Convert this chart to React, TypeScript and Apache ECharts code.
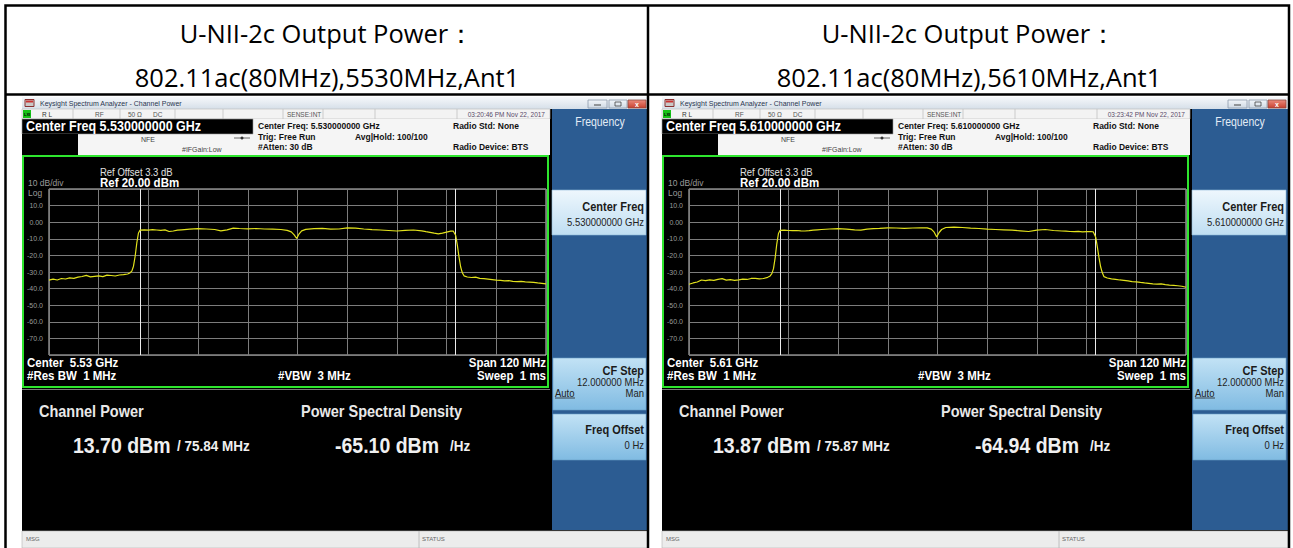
import React, { useEffect, useRef } from "react";
import * as echarts from "echarts";

// ---------------- data ----------------
const headerLine1 = "U-NII-2c Output Power：";
const headerLine2 = ["802.11ac(80MHz),5530MHz,Ant1", "802.11ac(80MHz),5610MHz,Ant1"];
const centerFreqFull = ["5.530000000", "5.610000000"];
const centerFreqShort = ["5.53", "5.61"];
const timeStamps = ["03:20:46 PM Nov 22, 2017", "03:23:42 PM Nov 22, 2017"];
const channelPowerDbm = ["13.70", "13.87"];
const channelBwMhz = ["75.84", "75.87"];
const psdDbmHz = ["-65.10", "-64.94"];
const spanMinMhz = -60;
const spanMaxMhz = 60;
const spanStepMhz = 12;
const levelMin = -80;
const levelMax = 20;
const levelStep = 10;
const channelEdgesMhz = [-38, 38];

const traceOffsetsMhz = [
  -60, -59, -58, -57, -56, -55, -54, -53, -52, -51, -50, -49, -48, -47, -46, -45, -44, -43, -42, -41,
  -40.5, -40, -39.6, -39.2, -38.8, -38.4, -38, -37, -36, -35, -34, -33, -32, -31, -30, -29, -28,
  -26, -24, -22, -20, -18.5, -17, -15.5, -14, -12, -10, -8, -6, -4, -2.5, -1.5, -0.8, -0.2, 0.4, 1,
  2, 4, 6, 8, 10, 12, 14, 16, 18, 20, 22, 24, 26, 28, 30, 31, 32, 33, 34, 35, 36, 37, 37.6, 38.2,
  38.6, 39, 39.4, 39.8, 40.2, 41, 42, 43, 44, 45, 46, 47, 48, 49, 50, 51, 52, 53, 54, 55, 56, 57,
  58, 59, 60,
];

const trace5530Dbm = [
  -34.9, -34.3, -34.8, -33.9, -34.2, -33.5, -33.8, -33.1, -32.7, -32.0, -32.9, -32.6, -32.3, -32.8, -31.9, -32.1, -32.4, -31.8, -31.6, -31.2,
  -30.6, -29.5, -26.5, -20.5, -12.5, -6.5, -4.8, -4.6, -4.8, -4.5, -4.7, -4.9, -4.6, -5.6, -5.3, -4.8, -4.6,
  -4.2, -3.9, -4.1, -4.4, -5.2, -4.6, -3.6, -3.8, -4.0, -3.8, -4.1, -4.2, -4.4, -4.9, -5.8, -7.6, -9.8, -7.0, -5.2,
  -4.3, -3.9, -3.7, -4.2, -4.1, -3.4, -3.6, -4.1, -4.5, -4.7, -5.0, -5.3, -4.9, -4.7, -5.2, -5.7, -6.1, -6.6, -7.0, -6.6, -6.0, -5.4, -5.3, -8.0,
  -14.0, -21.0, -27.0, -30.5, -32.3, -33.0, -33.3, -33.1, -33.8, -34.0, -34.3, -34.6, -34.9, -35.1, -35.3, -35.2, -35.6, -35.8, -35.7, -36.0, -36.1, -36.3,
  -36.6, -36.8, -37.2,
];

const trace5610Dbm = [
  -37.4, -36.6, -36.0, -34.8, -35.2, -34.7, -35.0, -34.4, -34.0, -34.9, -34.6, -35.0, -34.7, -34.3, -34.5, -33.9, -33.8, -34.1, -33.9, -33.2,
  -32.6, -31.0, -28.0, -21.5, -13.0, -6.8, -4.9, -4.8, -5.0, -5.1, -5.0, -5.2, -5.3, -5.1, -4.8, -4.6, -4.4,
  -4.1, -3.9, -4.2, -4.6, -4.8, -4.2, -3.9, -3.7, -3.4, -3.5, -3.7, -3.5, -3.4, -3.4, -4.2, -6.0, -8.9, -6.2, -4.4,
  -3.2, -3.0, -3.2, -3.6, -3.8, -4.2, -4.4, -4.6, -4.8, -5.2, -5.6, -4.8, -4.4, -5.0, -5.3, -5.4, -5.6, -5.7, -5.5, -5.8, -5.7, -5.6, -5.8, -9.0,
  -15.0, -21.5, -27.0, -30.5, -32.8, -33.6, -34.1, -34.4, -34.8, -35.0, -35.4, -35.8, -35.9, -36.3, -36.6, -36.8, -37.1, -37.3, -37.2, -37.6, -37.9, -38.0,
  -38.3, -38.6, -39.2,
];

const traces = [trace5530Dbm, trace5610Dbm];

// ---------------- layout helpers ----------------
const PANEL_X = [22, 662];
const FONT = '"Liberation Sans", Arial, sans-serif';
const SY = 1.15;

type TOpts = {
  bold?: boolean;
  fill?: string;
  align?: string;
  sy?: number;
  family?: string;
  z?: number;
};

function txt(x: number, y: number, text: string, size: number, o: TOpts = {}) {
  const align = o.align ?? "left";
  return {
    type: "text",
    x,
    y,
    scaleY: o.sy ?? SY,
    z: o.z ?? 10,
    silent: true,
    style: {
      text,
      fill: o.fill ?? "#ffffff",
      font: `${o.bold ? "bold " : ""}${size}px ${o.family ?? FONT}`,
      textAlign: align,
      align,
      textVerticalAlign: "middle",
      verticalAlign: "middle",
    },
  };
}

function rect(x: number, y: number, w: number, h: number, style: any, z = 1) {
  return { type: "rect", silent: true, z, shape: { x, y, width: w, height: h }, style };
}

function line(x1: number, y1: number, x2: number, y2: number, stroke: string, lw = 1, z = 2) {
  return { type: "line", silent: true, z, shape: { x1, y1, x2, y2 }, style: { stroke, lineWidth: lw } };
}

function vgrad(c1: string, c2: string) {
  return new echarts.graphic.LinearGradient(0, 0, 0, 1, [
    { offset: 0, color: c1 },
    { offset: 1, color: c2 },
  ]);
}

function panelGraphics(i: number) {
  const ox = PANEL_X[i];
  const els: any[] = [];
  // screenshot base
  els.push(rect(ox, 97, 626, 451, { fill: "#000" }, 0));
  // title bar
  els.push(rect(ox, 97, 626, 12, { fill: vgrad("#f6f8fb", "#d6dfe9") }, 1));
  els.push(rect(ox + 3, 99.5, 9, 7, { fill: "#c9c9c9", stroke: "#8a3030", lineWidth: 1 }, 2));
  els.push(rect(ox + 4, 100.5, 7, 2, { fill: "#c33" }, 3));
  els.push(txt(ox + 18, 103, "Keysight Spectrum Analyzer - Channel Power", 7, { fill: "#2a3650", sy: 1 }));
  els.push(rect(ox + 566, 100, 19, 8, { fill: vgrad("#f2f5f9", "#cfd9e4"), stroke: "#8d9aab", lineWidth: 0.8 }, 2));
  els.push(rect(ox + 587, 100, 18, 8, { fill: vgrad("#f2f5f9", "#cfd9e4"), stroke: "#8d9aab", lineWidth: 0.8 }, 2));
  els.push(rect(ox + 606, 100, 18, 8, { fill: vgrad("#ec8a7c", "#c8412f"), stroke: "#8d4a40", lineWidth: 0.8 }, 2));
  els.push(line(ox + 572, 105, ox + 579, 105, "#444", 1, 3));
  els.push(rect(ox + 593, 102, 6, 4, { fill: "none", stroke: "#444", lineWidth: 0.8 }, 3));
  els.push(txt(ox + 615, 104, "x", 7, { bold: true, fill: "#fff", align: "center", sy: 1 }));

  // status row
  els.push(rect(ox, 109, 528, 10, { fill: "#f3f3f3", stroke: "#b8b8b8", lineWidth: 0.6 }, 1));
  [51, 98, 153, 201, 261, 301, 353, 435].forEach((sx) => els.push(line(ox + sx, 109, ox + sx, 119, "#c0c0c0", 0.8, 2)));
  els.push(rect(ox + 1, 110, 8, 8, { fill: "#17c317" }, 2));
  els.push(txt(ox + 2, 114, "LXI", 4, { fill: "#000", sy: 1, bold: true }));
  els.push(txt(ox + 20, 114, "R L", 6.5, { fill: "#333", sy: 1 }));
  els.push(txt(ox + 73, 114, "RF", 6.5, { fill: "#555", sy: 1 }));
  els.push(txt(ox + 106, 114, "50 Ω", 6.5, { fill: "#555", sy: 1 }));
  els.push(txt(ox + 131, 114, "DC", 6.5, { fill: "#555", sy: 1 }));
  els.push(txt(ox + 265, 114, "SENSE:INT", 6.5, { fill: "#555", sy: 1 }));
  els.push(txt(ox + 523, 114, timeStamps[i], 6.5, { fill: "#5a4a6a", sy: 1, align: "right" }));

  // header zone
  els.push(rect(ox, 119, 528, 36, { fill: "#f5f5f5" }, 1));
  els.push(rect(ox, 119, 231, 15, { fill: "#000", stroke: "#9a9a9a", lineWidth: 0.6 }, 2));
  els.push(rect(ox, 134, 56, 21, { fill: "#000" }, 2));
  els.push(txt(ox + 4, 126.5, `Center Freq ${centerFreqFull[i]} GHz`, 12.5, { bold: true }));
  els.push(txt(ox + 126, 139, "NFE", 7, { fill: "#444", align: "center" }));
  els.push(txt(ox + 160, 149, "#IFGain:Low", 7, { fill: "#444" }));
  els.push(line(ox + 212, 138, ox + 228, 138, "#444", 0.8, 3));
  els.push({ type: "circle", silent: true, z: 3, shape: { cx: ox + 220, cy: 138, r: 1.5 }, style: { fill: "#333" } });
  els.push(txt(ox + 236, 126, `Center Freq: ${centerFreqFull[i]} GHz`, 8.5, { bold: true, fill: "#111" }));
  els.push(txt(ox + 236, 136.5, "Trig: Free Run", 8.5, { bold: true, fill: "#111" }));
  els.push(txt(ox + 236, 147, "#Atten: 30 dB", 8.5, { bold: true, fill: "#111" }));
  els.push(txt(ox + 333, 136.5, "Avg|Hold: 100/100", 8.5, { bold: true, fill: "#111" }));
  els.push(txt(ox + 431, 126, "Radio Std: None", 8.5, { bold: true, fill: "#111" }));
  els.push(txt(ox + 431, 147, "Radio Device: BTS", 8.5, { bold: true, fill: "#111" }));

  // softkey column
  els.push(rect(ox + 530, 109, 96, 421, { fill: "#2c5c92" }, 1));
  els.push(txt(ox + 578, 122, "Frequency", 10.5, { fill: "#e3ecf6", align: "center" }));
  els.push(rect(ox + 530, 190, 94, 45, { fill: vgrad("#eef7fd", "#bfdef2"), stroke: "#8fb8d8", lineWidth: 0.6 }, 2));
  els.push(txt(ox + 622, 207, "Center Freq", 11, { bold: true, fill: "#1b1b1b", align: "right" }));
  els.push(txt(ox + 622, 222, `${centerFreqFull[i]} GHz`, 9.5, { fill: "#222", align: "right" }));
  els.push(rect(ox + 531, 358, 93, 52, { fill: vgrad("#c2e2f5", "#80bbe2"), stroke: "#6aa0c8", lineWidth: 0.6 }, 2));
  els.push(txt(ox + 622, 371, "CF Step", 11, { bold: true, fill: "#1b1b1b", align: "right" }));
  els.push(txt(ox + 622, 382, "12.000000 MHz", 9.5, { fill: "#222", align: "right" }));
  els.push(txt(ox + 533, 393, "Auto", 9.5, { fill: "#222" }));
  els.push(line(ox + 533, 398, ox + 553, 398, "#222", 0.8, 3));
  els.push(txt(ox + 622, 393, "Man", 9.5, { fill: "#222", align: "right" }));
  els.push(rect(ox + 531, 414, 93, 46, { fill: vgrad("#c2e2f5", "#80bbe2"), stroke: "#6aa0c8", lineWidth: 0.6 }, 2));
  els.push(txt(ox + 622, 430, "Freq Offset", 11, { bold: true, fill: "#1b1b1b", align: "right" }));
  els.push(txt(ox + 622, 445, "0 Hz", 9.5, { fill: "#222", align: "right" }));

  // plot box
  els.push(rect(ox + 1, 156, 525, 231, { fill: "#000", stroke: "#2ee62e", lineWidth: 2 }, 1));
  els.push(txt(ox + 78, 172, "Ref Offset 3.3 dB", 9.5, { fill: "#e0e0e0" }));
  els.push(txt(ox + 6, 182.5, "10 dB/div", 8.5, { fill: "#9a9a9a" }));
  els.push(txt(ox + 78, 183, "Ref 20.00 dBm", 11.5, { bold: true }));
  els.push(txt(ox + 6, 192.5, "Log", 8.5, { fill: "#9a9a9a" }));
  els.push(txt(ox + 5, 363, `Center  ${centerFreqShort[i]} GHz`, 11.5, { bold: true }));
  els.push(txt(ox + 5, 376, "#Res BW  1 MHz", 11.5, { bold: true }));
  els.push(txt(ox + 256, 376, "#VBW  3 MHz", 11.5, { bold: true }));
  els.push(txt(ox + 524, 363, "Span 120 MHz", 11.5, { bold: true, align: "right" }));
  els.push(txt(ox + 524, 376, "Sweep  1 ms", 11.5, { bold: true, align: "right" }));
  els.push(line(ox, 389.5, ox + 528, 389.5, "#7a7a7a", 1, 2));

  // measurement results
  els.push(txt(ox + 17, 411, "Channel Power", 14.5, { bold: true, fill: "#e8e8e8" }));
  els.push(txt(ox + 279, 411, "Power Spectral Density", 14.5, { bold: true, fill: "#e8e8e8" }));
  els.push(txt(ox + 51, 445, `${channelPowerDbm[i]} dBm`, 19.5, { bold: true, fill: "#f0f0f0" }));
  els.push(txt(ox + 155, 446, `/ ${channelBwMhz[i]} MHz`, 13.5, { bold: true, fill: "#f0f0f0" }));
  els.push(txt(ox + 313, 445, `${psdDbmHz[i]} dBm`, 19.5, { bold: true, fill: "#f0f0f0" }));
  els.push(txt(ox + 428, 446, "/Hz", 13.5, { bold: true, fill: "#f0f0f0" }));

  // bottom status bar
  els.push(rect(ox, 531, 626, 17, { fill: "#ececec", stroke: "#b5b5b5", lineWidth: 0.6 }, 2));
  els.push(line(ox + 397, 531, ox + 397, 548, "#b5b5b5", 0.8, 3));
  els.push(txt(ox + 4, 539, "MSG", 6, { fill: "#666", sy: 1 }));
  els.push(txt(ox + 400, 539, "STATUS", 6, { fill: "#666", sy: 1 }));
  return els;
}

function tableGraphics() {
  const els: any[] = [];
  const HF = '"Open Sans", "Noto Sans", sans-serif';
  const centers = [327, 969];
  centers.forEach((cx, i) => {
    els.push(txt(cx, 33, headerLine1, 25.5, { fill: "#000", align: "center", sy: 1, family: HF, z: 20 }));
    els.push(txt(cx, 77, headerLine2[i], 25.5, { fill: "#000", align: "center", sy: 1, family: HF, z: 20 }));
  });
  els.push(rect(5.5, 5.5, 1283.5, 560, { fill: "none", stroke: "#000", lineWidth: 2.5 }, 30));
  els.push(line(6, 94.5, 1289, 94.5, "#000", 2.5, 30));
  els.push(line(648, 5, 648, 548, "#000", 2.5, 30));
  return els;
}

function buildOption() {
  const grids = PANEL_X.map((ox) => ({
    left: ox + 27,
    top: 189,
    width: 497,
    height: 166,
    show: true,
    backgroundColor: "#000",
    borderColor: "#cfcfcf",
    borderWidth: 1,
    z: 3,
  }));
  const xAxes = PANEL_X.map((_, i) => ({
    type: "value",
    gridIndex: i,
    min: spanMinMhz,
    max: spanMaxMhz,
    interval: spanStepMhz,
    axisLabel: { show: false },
    axisTick: { show: false },
    axisLine: { show: false },
    splitLine: { show: true, lineStyle: { color: "#7c7c7c", width: 1 } },
    z: 4,
  }));
  const yAxes = PANEL_X.map((_, i) => ({
    type: "value",
    gridIndex: i,
    min: levelMin,
    max: levelMax,
    interval: levelStep,
    axisTick: { show: false },
    axisLine: { show: false },
    splitLine: { show: true, lineStyle: { color: "#7c7c7c", width: 1 } },
    axisLabel: {
      color: "#9c9c9c",
      fontSize: 7,
      fontFamily: FONT,
      margin: 6,
      formatter: (v: number) => (v === levelMax || v === levelMin ? "" : v === 0 ? "0.00" : v.toFixed(1)),
    },
    z: 4,
  }));
  const series = PANEL_X.map((_, i) => ({
    type: "line",
    xAxisIndex: i,
    yAxisIndex: i,
    data: traceOffsetsMhz.map((f, k) => [f, traces[i][k]]),
    showSymbol: false,
    symbol: "none",
    lineStyle: { color: "#e2e21c", width: 1.2 },
    z: 6,
    markLine: {
      silent: true,
      symbol: "none",
      label: { show: false },
      lineStyle: { color: "#ececec", type: "solid", width: 1 },
      data: channelEdgesMhz.map((v) => ({ xAxis: v })),
    },
  }));
  return {
    animation: false,
    backgroundColor: "#ffffff",
    grid: grids,
    xAxis: xAxes,
    yAxis: yAxes,
    series,
    graphic: { elements: [...panelGraphics(0), ...panelGraphics(1), ...tableGraphics()] },
  };
}

export default function App() {
  const ref = useRef<HTMLDivElement>(null);
  useEffect(() => {
    if (!ref.current) return;
    const chart = echarts.init(ref.current, undefined, { renderer: "svg" });
    chart.setOption(buildOption() as any);
    return () => chart.dispose();
  }, []);
  return <div ref={ref} style={{ position: "absolute", left: 0, top: 0, width: 1293, height: 548 }} />;
}
